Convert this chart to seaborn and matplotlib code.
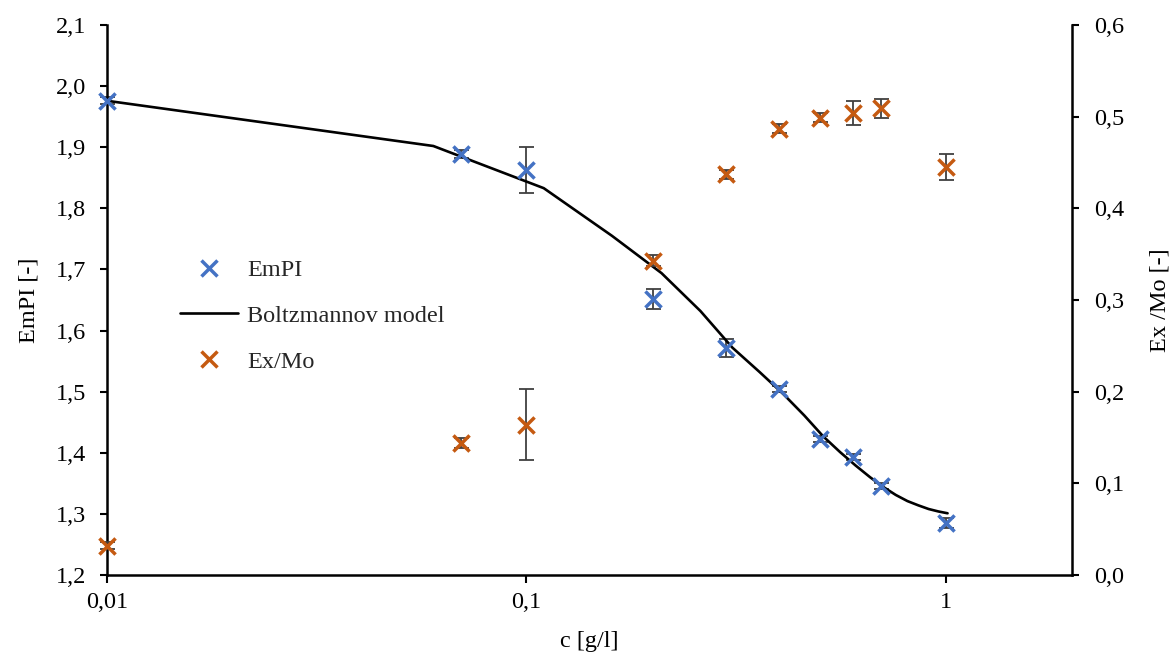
import matplotlib
matplotlib.use("Agg")
import matplotlib.pyplot as plt
import matplotlib.ticker as mticker
from matplotlib.lines import Line2D
import numpy as np
import pandas as pd
import seaborn as sns

# ---- data ----
conc = [0.01, 0.07, 0.1, 0.2, 0.3, 0.4, 0.5, 0.6, 0.7, 1.0]
empi = [1.976, 1.889, 1.863, 1.652, 1.571, 1.504, 1.422, 1.393, 1.345, 1.285]
empi_err = [0.006, 0.006, 0.038, 0.016, 0.015, 0.005, 0.005, 0.005, 0.005, 0.008]
exmo = [0.032, 0.144, 0.164, 0.343, 0.437, 0.487, 0.499, 0.504, 0.509, 0.445]
exmo_err = [0.004, 0.005, 0.039, 0.006, 0.005, 0.005, 0.005, 0.013, 0.010, 0.014]

model_x = [0.01, 0.06, 0.11, 0.16, 0.21, 0.26, 0.31, 0.36, 0.41, 0.46, 0.51,
           0.56, 0.61, 0.66, 0.71, 0.76, 0.81, 0.86, 0.91, 0.96, 1.01]
model_y = [1.976, 1.902, 1.833, 1.755, 1.694, 1.632, 1.572, 1.532, 1.496, 1.461, 1.427,
           1.401, 1.379, 1.360, 1.344, 1.331, 1.321, 1.314, 1.308, 1.304, 1.301]

x_ticks = [0.01, 0.1, 1]
x_tick_labels = ["0,01", "0,1", "1"]
left_ticks = [1.2, 1.3, 1.4, 1.5, 1.6, 1.7, 1.8, 1.9, 2.0, 2.1]
right_ticks = [0.0, 0.1, 0.2, 0.3, 0.4, 0.5, 0.6]

BLUE = "#4472C4"
ORANGE = "#C55A11"
ERR = "#404040"

sns.set_theme(style="ticks")
plt.rcParams["font.family"] = ["Liberation Serif", "DejaVu Serif"]
plt.rcParams["axes.unicode_minus"] = False

fig = plt.figure(figsize=(11.73, 6.63), dpi=100)
ax = fig.add_axes([107 / 1173, 1 - 575 / 663, (1072 - 107) / 1173, (575 - 25) / 663])
ax2 = ax.twinx()

df_e = pd.DataFrame({"c": conc, "v": empi})
df_x = pd.DataFrame({"c": conc, "v": exmo})
df_m = pd.DataFrame({"c": model_x, "v": model_y})

# error bars
for a, y, e in ((ax, empi, empi_err), (ax2, exmo, exmo_err)):
    _, caps, bars = a.errorbar(conc, y, yerr=e, fmt="none", ecolor=ERR, elinewidth=1.3,
                               capsize=5.4, capthick=1.3, zorder=2)
    for c in caps:
        c.set_clip_on(False)
    for b in bars:
        b.set_clip_on(False)

sns.lineplot(data=df_m, x="c", y="v", ax=ax, color="black", linewidth=1.9,
             sort=False, estimator=None, zorder=3, legend=False)
sns.scatterplot(data=df_e, x="c", y="v", ax=ax, marker="x", s=135, color=BLUE,
                linewidth=2.5, zorder=4, legend=False, clip_on=False)
sns.scatterplot(data=df_x, x="c", y="v", ax=ax2, marker="x", s=135, color=ORANGE,
                linewidth=2.5, zorder=4, legend=False, clip_on=False)

ax.set_xscale("log")
ax.set_xlim(0.01, 2.0)
ax.set_ylim(1.2, 2.1)
ax2.set_ylim(0.0, 0.6)

ax.set_xticks(x_ticks)
ax.set_xticklabels(x_tick_labels)
ax.xaxis.set_minor_locator(mticker.NullLocator())
ax.set_yticks(left_ticks)
ax.set_yticklabels([f"{v:.1f}".replace(".", ",") for v in left_ticks])
ax2.set_yticks(right_ticks)
ax2.set_yticklabels([f"{v:.1f}".replace(".", ",") for v in right_ticks])

fs = 17.5
ax.tick_params(axis="x", which="major", length=6, width=1.5, labelsize=fs, pad=6,
               colors="black")
ax.tick_params(axis="y", which="major", length=5, width=1.5, labelsize=fs, pad=10,
               colors="black")
ax2.tick_params(axis="y", which="major", length=5, width=1.5, labelsize=fs, pad=11,
                colors="black")

for a in (ax, ax2):
    a.spines["top"].set_visible(False)
    for s in ("left", "right", "bottom"):
        a.spines[s].set_linewidth(1.8)
        a.spines[s].set_color("black")
ax.spines["right"].set_visible(False)
ax2.spines["left"].set_visible(False)
ax2.spines["bottom"].set_visible(False)

ax.set_xlabel("c [g/l]", fontsize=fs, labelpad=13, color="black")
ax.set_ylabel("EmPI [-]", fontsize=fs, labelpad=12, color="black")
ax2.set_ylabel("Ex /Mo [-]", fontsize=fs, labelpad=18, color="black")

handles = [
    Line2D([], [], marker="x", color=BLUE, linestyle="none", markersize=11.6,
           markeredgewidth=2.5),
    Line2D([], [], color="black", linewidth=1.9),
    Line2D([], [], marker="x", color=ORANGE, linestyle="none", markersize=11.6,
           markeredgewidth=2.5),
]
labels = ["EmPI", "Boltzmannov model", "Ex/Mo"]
ax2.legend(handles, labels, loc="upper left",
           bbox_to_anchor=(180 / 1173, 1 - 259 / 663), bbox_transform=fig.transFigure,
           frameon=False, fontsize=fs, handlelength=2.4, handletextpad=0.35,
           labelspacing=0.98, borderpad=0, borderaxespad=0)

fig.savefig("out.png", dpi=100)
